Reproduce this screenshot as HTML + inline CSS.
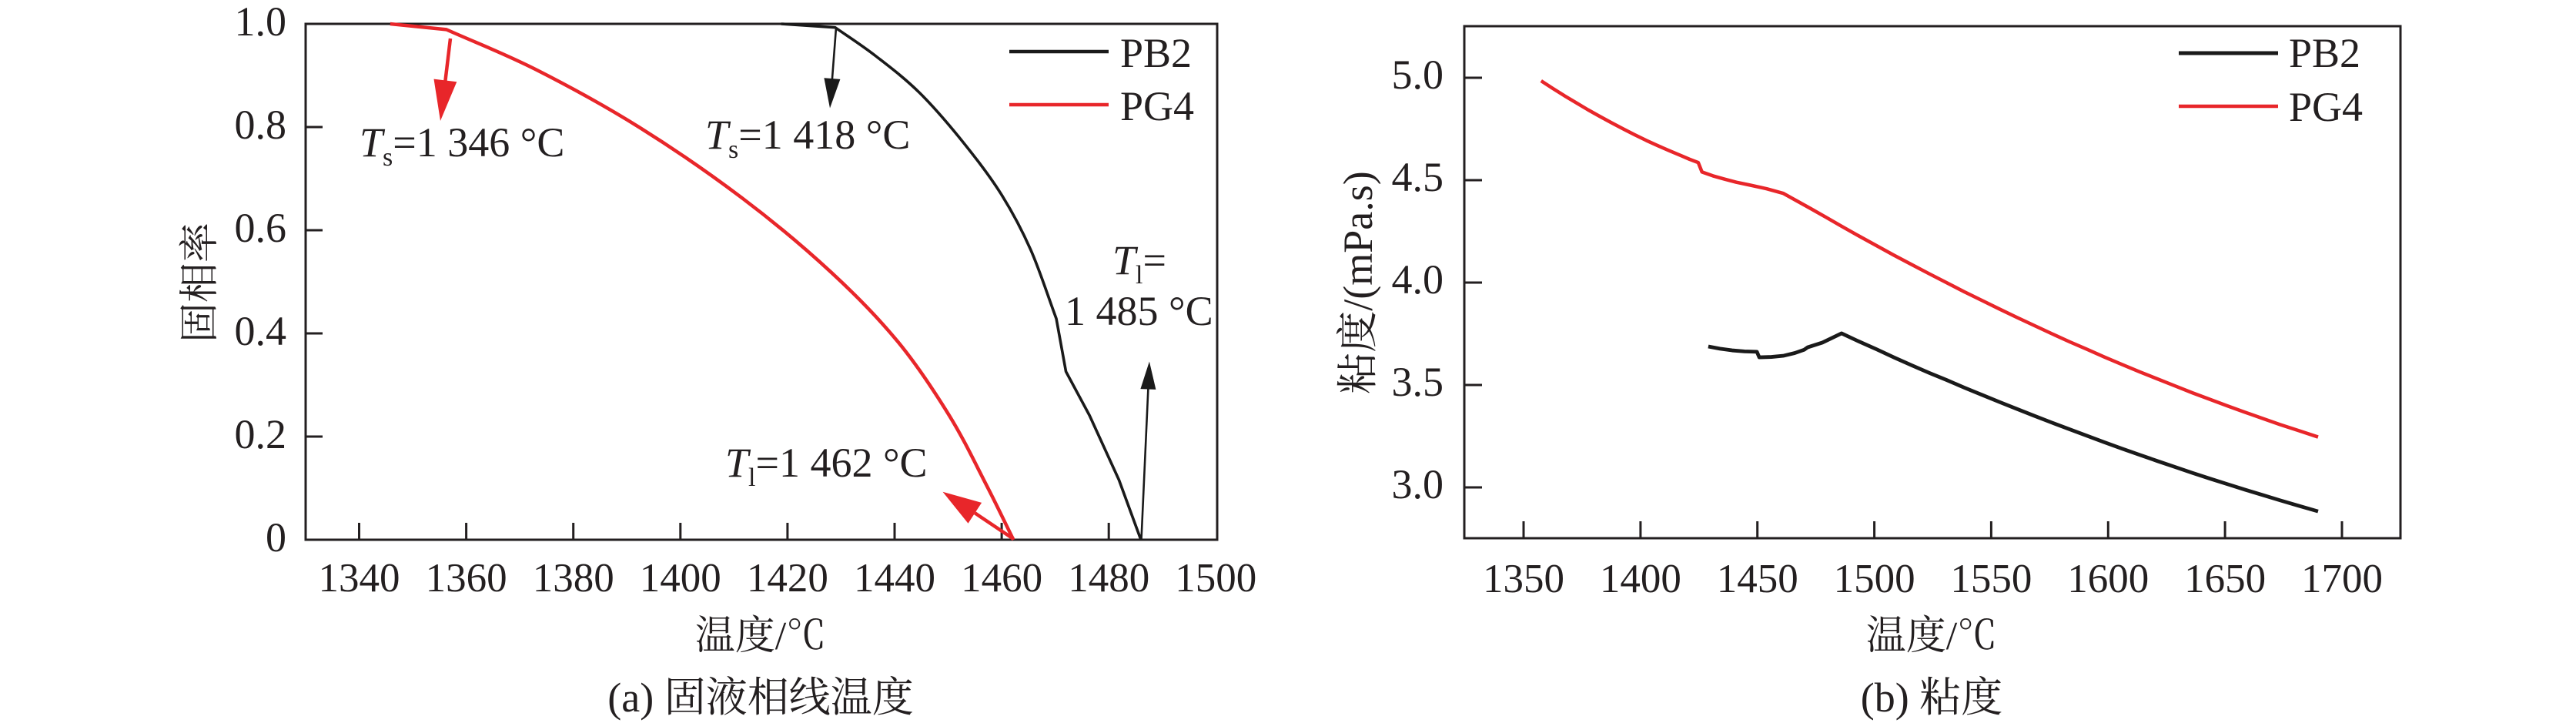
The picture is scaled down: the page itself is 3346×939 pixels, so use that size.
<!DOCTYPE html>
<html>
<head>
<meta charset="utf-8">
<style>
  html, body { margin: 0; padding: 0; background: #ffffff; }
  body { width: 3346px; height: 939px; overflow: hidden; }
  svg { display: block; }
  text { font-family: "Liberation Serif", "Noto Serif CJK SC", serif; fill: #231f20; }
</style>
</head>
<body>
<svg width="3346" height="939" viewBox="0 0 3346 939" xmlns="http://www.w3.org/2000/svg">
  <rect x="0" y="0" width="3346" height="939" fill="#ffffff"/>

  <!-- ================= Chart (a) ================= -->
  <g stroke="#231f20" stroke-width="3" fill="none">
    <rect x="397" y="31" width="1184" height="670"/>
    <line x1="466.5" y1="701" x2="466.5" y2="679"/>
    <line x1="605.6" y1="701" x2="605.6" y2="679"/>
    <line x1="744.7" y1="701" x2="744.7" y2="679"/>
    <line x1="883.8" y1="701" x2="883.8" y2="679"/>
    <line x1="1022.9" y1="701" x2="1022.9" y2="679"/>
    <line x1="1162" y1="701" x2="1162" y2="679"/>
    <line x1="1301.1" y1="701" x2="1301.1" y2="679"/>
    <line x1="1440.2" y1="701" x2="1440.2" y2="679"/>
    <line x1="397" y1="567" x2="419" y2="567"/>
    <line x1="397" y1="433" x2="419" y2="433"/>
    <line x1="397" y1="299" x2="419" y2="299"/>
    <line x1="397" y1="165" x2="419" y2="165"/>
  </g>

  <g font-size="54" text-anchor="end">
    <text x="372" y="716">0</text>
    <text x="372" y="582">0.2</text>
    <text x="372" y="448">0.4</text>
    <text x="372" y="314">0.6</text>
    <text x="372" y="180">0.8</text>
    <text x="372" y="46">1.0</text>
  </g>
  <g font-size="53" text-anchor="middle">
    <text x="466.5" y="768">1340</text>
    <text x="605.6" y="768">1360</text>
    <text x="744.7" y="768">1380</text>
    <text x="883.8" y="768">1400</text>
    <text x="1022.9" y="768">1420</text>
    <text x="1162" y="768">1440</text>
    <text x="1301.1" y="768">1460</text>
    <text x="1440.2" y="768">1480</text>
    <text x="1579.3" y="768">1500</text>
  </g>
  <text x="988" y="843" font-size="52" text-anchor="middle">温度/℃</text>
  <text transform="translate(277,367) rotate(-90)" font-size="52" text-anchor="middle">固相率</text>
  <text x="988" y="924" font-size="54" text-anchor="middle">(a) 固液相线温度</text>

  <g transform="translate(466.5 701) scale(6.955 -670) translate(-1340 0)" fill="none" stroke-linejoin="round" stroke-linecap="butt">
    <path vector-effect="non-scaling-stroke" stroke="#e8262a" stroke-width="4.5"
      d="M1345.8,1 L1356.3,0.989 C1361.9,0.963 1367.08,0.9427 1373.1,0.911 C1379.12,0.8793 1385.97,0.8407 1392.4,0.799 C1398.83,0.7573 1405.73,0.7078 1411.7,0.661 C1417.67,0.6142 1423.38,0.5642 1428.2,0.518 C1433.02,0.4718 1436.93,0.4302 1440.6,0.384 C1444.27,0.3378 1447.45,0.2872 1450.2,0.241 C1452.95,0.1948 1455.1,0.1472 1457.1,0.107 C1459.1,0.0668 1460.5,0.0357 1462.2,0"/>
    <path vector-effect="non-scaling-stroke" stroke="#1a1a1a" stroke-width="3.6"
      d="M1418.8,1 L1428.9,0.993 C1431.43,0.9747 1433.87,0.9587 1436.5,0.9375 C1439.13,0.9163 1441.95,0.8943 1444.7,0.866 C1447.45,0.8378 1450.47,0.8007 1453,0.768 C1455.53,0.7353 1457.83,0.7043 1459.9,0.67 C1461.97,0.6358 1463.68,0.6027 1465.4,0.5625 C1467.12,0.5223 1468.6,0.4732 1470.2,0.4286 L1472.0,0.326 L1476.4,0.241 L1481.9,0.116 L1486.0,0"/>
  </g>

  <line x1="585" y1="50" x2="578.4" y2="105" stroke="#e8262a" stroke-width="4.5"/>
  <polygon points="572,157 593.3,106.2 563.5,102.6" fill="#e8262a"/>
  <line x1="1086" y1="36" x2="1080.9" y2="103" stroke="#1a1a1a" stroke-width="2.6"/>
  <polygon points="1078,140.5 1091.4,102.9 1070.4,101.3" fill="#1a1a1a"/>
  <line x1="1316.5" y1="700" x2="1266.3" y2="666.3" stroke="#e8262a" stroke-width="4.5"/>
  <polygon points="1224.5,638.8 1275.1,652.9 1257.5,679.7" fill="#e8262a"/>
  <line x1="1482.5" y1="701" x2="1491.4" y2="505" stroke="#1a1a1a" stroke-width="2.6"/>
  <polygon points="1492.9,469.5 1501.4,505.9 1481.4,505.1" fill="#1a1a1a"/>

  <g font-size="54">
    <text x="467" y="203"><tspan font-style="italic">T</tspan><tspan font-size="34" dy="12">s</tspan><tspan dy="-12">=1 346 °C</tspan></text>
    <text x="916" y="193"><tspan font-style="italic">T</tspan><tspan font-size="34" dy="12">s</tspan><tspan dy="-12">=1 418 °C</tspan></text>
    <text x="1445" y="356"><tspan font-style="italic">T</tspan><tspan font-size="34" dy="12">l</tspan><tspan dy="-12">=</tspan></text>
    <text x="1383" y="422">1 485 °C</text>
    <text x="942" y="619"><tspan font-style="italic">T</tspan><tspan font-size="34" dy="12">l</tspan><tspan dy="-12">=1 462 °C</tspan></text>
  </g>

  <line x1="1311" y1="67" x2="1440" y2="67" stroke="#1a1a1a" stroke-width="4.5"/>
  <line x1="1311" y1="136" x2="1440" y2="136" stroke="#e8262a" stroke-width="4.5"/>
  <text x="1455" y="87" font-size="54">PB2</text>
  <text x="1455" y="156" font-size="54">PG4</text>

  <!-- ================= Chart (b) ================= -->
  <g stroke="#231f20" stroke-width="3" fill="none">
    <rect x="1902" y="34" width="1216" height="665"/>
    <line x1="1979" y1="699" x2="1979" y2="677"/>
    <line x1="2130.9" y1="699" x2="2130.9" y2="677"/>
    <line x1="2282.7" y1="699" x2="2282.7" y2="677"/>
    <line x1="2434.6" y1="699" x2="2434.6" y2="677"/>
    <line x1="2586.4" y1="699" x2="2586.4" y2="677"/>
    <line x1="2738.3" y1="699" x2="2738.3" y2="677"/>
    <line x1="2890.1" y1="699" x2="2890.1" y2="677"/>
    <line x1="3042" y1="699" x2="3042" y2="677"/>
    <line x1="1902" y1="101" x2="1925" y2="101"/>
    <line x1="1902" y1="234" x2="1925" y2="234"/>
    <line x1="1902" y1="367" x2="1925" y2="367"/>
    <line x1="1902" y1="500" x2="1925" y2="500"/>
    <line x1="1902" y1="633" x2="1925" y2="633"/>
  </g>

  <g font-size="54" text-anchor="end">
    <text x="1875" y="115">5.0</text>
    <text x="1875" y="248">4.5</text>
    <text x="1875" y="381">4.0</text>
    <text x="1875" y="514">3.5</text>
    <text x="1875" y="647">3.0</text>
  </g>
  <g font-size="53" text-anchor="middle">
    <text x="1979" y="769">1350</text>
    <text x="2130.9" y="769">1400</text>
    <text x="2282.7" y="769">1450</text>
    <text x="2434.6" y="769">1500</text>
    <text x="2586.4" y="769">1550</text>
    <text x="2738.3" y="769">1600</text>
    <text x="2890.1" y="769">1650</text>
    <text x="3042" y="769">1700</text>
  </g>
  <text x="2509" y="843" font-size="52" text-anchor="middle">温度/℃</text>
  <text transform="translate(1782,367) rotate(-90)" font-size="54" text-anchor="middle">粘度/(mPa.s)</text>
  <text x="2509" y="924" font-size="54" text-anchor="middle">(b) 粘度</text>

  <g transform="translate(1979 101) scale(3.037 -266) translate(-1350 -5)" fill="none" stroke-linejoin="round" stroke-linecap="butt">
    <polyline vector-effect="non-scaling-stroke" stroke="#e8262a" stroke-width="4.5"
      points="1357.5,4.985 1362.5,4.948 1367.5,4.912 1372.5,4.878 1377.5,4.844 1382.5,4.812 1387.5,4.781 1392.5,4.751 1397.5,4.722 1402.5,4.694 1407.5,4.668 1412.5,4.643 1417.5,4.619 1421,4.602 1424.7,4.586 1426.3,4.540 1431,4.521 1436,4.505 1441,4.490 1446.8,4.476 1454,4.458 1461,4.436 1467,4.398 1473,4.36 1479.5,4.318 1486,4.275 1493.5,4.227 1501,4.180 1508.5,4.133 1516,4.088 1523.5,4.043 1531,3.999 1538.5,3.955 1546,3.913 1553.5,3.871 1561,3.830 1568.5,3.790 1576,3.750 1583.5,3.711 1591,3.674 1598.5,3.636 1606,3.600 1613.5,3.564 1621,3.530 1628.5,3.496 1636,3.462 1643.5,3.430 1651,3.398 1658.5,3.367 1666,3.337 1673.5,3.307 1681,3.279 1689.8,3.246"/>
    <polyline vector-effect="non-scaling-stroke" stroke="#1a1a1a" stroke-width="4.8"
      points="1429,3.688 1434,3.677 1439.2,3.669 1444.5,3.664 1449.8,3.662 1450.8,3.635 1456,3.637 1461.3,3.643 1466,3.656 1470,3.672 1471.5,3.684 1477.8,3.707 1486,3.752 1493.5,3.712 1501,3.674 1508.5,3.634 1516,3.596 1523.5,3.559 1531,3.524 1538.5,3.487 1546,3.452 1553.5,3.417 1561,3.383 1568.5,3.349 1576,3.316 1583.5,3.284 1591,3.252 1598.5,3.220 1606,3.189 1613.5,3.159 1621,3.129 1628.5,3.100 1636,3.071 1643.5,3.043 1651,3.016 1658.5,2.989 1666,2.963 1673.5,2.937 1681,2.912 1689.8,2.883"/>
  </g>

  <line x1="2830" y1="69" x2="2959" y2="69" stroke="#1a1a1a" stroke-width="5"/>
  <line x1="2830" y1="138" x2="2959" y2="138" stroke="#e8262a" stroke-width="4.5"/>
  <text x="2973" y="87" font-size="54">PB2</text>
  <text x="2973" y="157" font-size="54">PG4</text>
</svg>
</body>
</html>
